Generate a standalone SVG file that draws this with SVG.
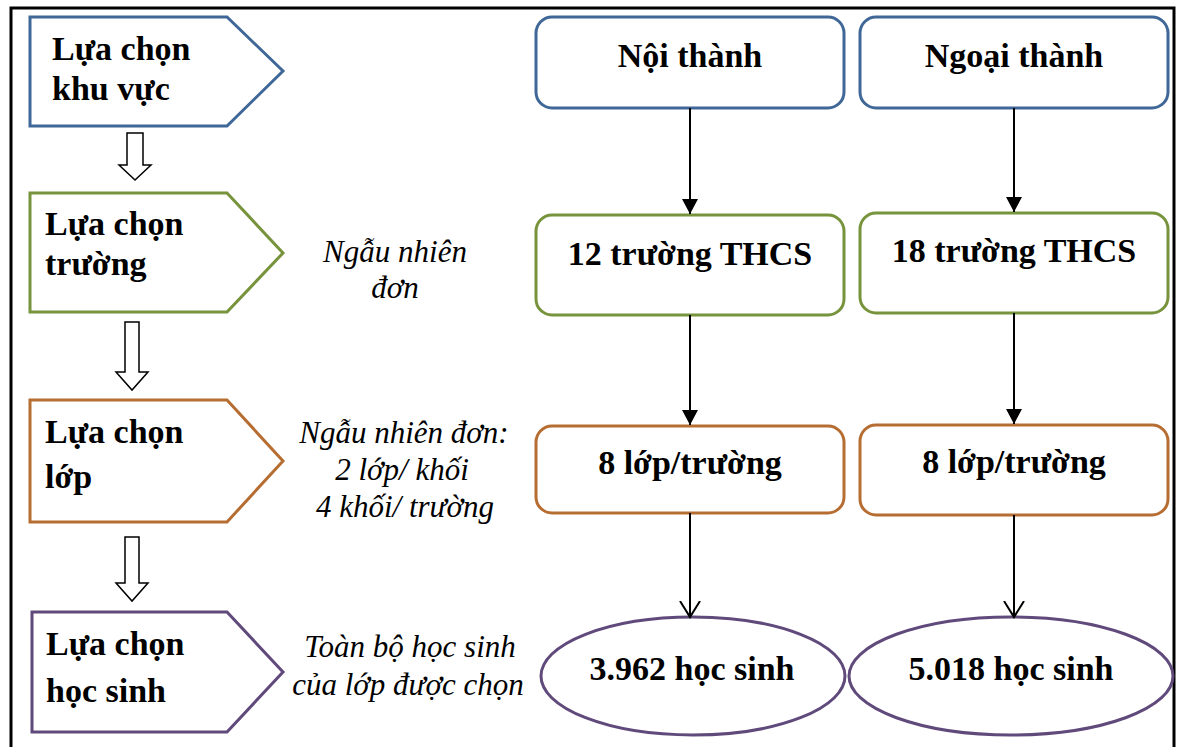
<svg xmlns="http://www.w3.org/2000/svg" width="1183" height="747" viewBox="0 0 1183 747">
<style>
.bold{font-weight:bold;font-size:34px;fill:#000}
.ital{font-style:italic;font-size:31px;fill:#000;text-anchor:middle}
.mid{text-anchor:middle}
.shape{fill:#fff;stroke-width:3}
.blue{stroke:#3F6797}
.green{stroke:#77933C}
.orange{stroke:#B66D31}
.purple{stroke:#604A7B}
.hollow{fill:#fff;stroke:#000;stroke-width:1.5}
.conn{stroke:#000;stroke-width:2;fill:none}
</style>
<defs>
<marker id="filled" markerUnits="userSpaceOnUse" markerWidth="16" markerHeight="18" refX="15" refY="8" orient="auto">
<path d="M0,0 L15,8 L0,16 Z" fill="#000"/>
</marker>
<marker id="open" markerUnits="userSpaceOnUse" markerWidth="18" markerHeight="24" refX="16" refY="11" orient="auto">
<path d="M0,1 L16,11 L0,21" fill="none" stroke="#000" stroke-width="2"/>
</marker>
</defs>
<rect width="1183" height="747" fill="#fff"/>
<rect x="11" y="8" width="1163" height="760" fill="none" stroke="#000" stroke-width="3"/>
<g font-family="'Times New Roman', 'Liberation Serif', 'Nimbus Roman', FreeSerif, 'Noto Serif', 'DejaVu Serif', serif">
<g id="step-khuvuc">
<path class="shape blue" d="M30,17 H227 L283,71 L227,126 H30 Z"/>
<text class="bold" x="52" y="60">Lựa chọn</text>
<text class="bold" x="52" y="100">khu vực</text>
</g>
<g id="step-truong">
<path class="shape green" d="M30,193 H227 L283,253 L227,312 H30 Z"/>
<text class="bold" x="45" y="235">Lựa chọn</text>
<text class="bold" x="45" y="275">trường</text>
</g>
<g id="step-lop">
<path class="shape orange" d="M30,400 H227 L283,461 L227,522 H30 Z"/>
<text class="bold" x="45" y="443">Lựa chọn</text>
<text class="bold" x="45" y="488">lớp</text>
</g>
<g id="step-hocsinh">
<path class="shape purple" d="M32,612 H227 L283,672 L227,732 H32 Z"/>
<text class="bold" x="46" y="655">Lựa chọn</text>
<text class="bold" x="46" y="702">học sinh</text>
</g>

<g id="hollow-arrows">
<polygon class="hollow" points="127,133 143,133 143,165 151,165 135,180 119,165 127,165"/>
<polygon class="hollow" points="125,322 139,322 139,372 148,372 132,390 116,372 125,372"/>
<polygon class="hollow" points="125,537 139,537 139,583 148,583 132,601 116,583 125,583"/>
</g>

<g id="label-truong">
<text class="ital" x="395" y="262">Ngẫu nhiên</text>
<text class="ital" x="395" y="298">đơn</text>
</g>
<g id="label-lop">
<text class="ital" x="404" y="443">Ngẫu nhiên đơn:</text>
<text class="ital" x="402" y="480">2 lớp/ khối</text>
<text class="ital" x="405" y="517">4 khối/ trường</text>
</g>
<g id="label-hocsinh">
<text class="ital" x="410" y="657">Toàn bộ học sinh</text>
<text class="ital" x="408" y="695">của lớp được chọn</text>
</g>

<g id="noi-thanh">
<rect class="shape blue" x="536" y="17" width="308" height="91" rx="16"/>
<text class="bold mid" x="690" y="67">Nội thành</text>
</g>
<g id="ngoai-thanh">
<rect class="shape blue" x="860" y="17" width="308" height="91" rx="16"/>
<text class="bold mid" x="1014" y="67">Ngoại thành</text>
</g>
<g id="truong-noi">
<rect class="shape green" x="536" y="215" width="308" height="100" rx="16"/>
<text class="bold mid" x="690" y="265">12 trường THCS</text>
</g>
<g id="truong-ngoai">
<rect class="shape green" x="860" y="213" width="308" height="100" rx="16"/>
<text class="bold mid" x="1014" y="262">18 trường THCS</text>
</g>
<g id="lop-noi">
<rect class="shape orange" x="536" y="426" width="308" height="87" rx="16"/>
<text class="bold mid" x="690" y="474">8 lớp/trường</text>
</g>
<g id="lop-ngoai">
<rect class="shape orange" x="860" y="425" width="308" height="90" rx="16"/>
<text class="bold mid" x="1014" y="473">8 lớp/trường</text>
</g>
<g id="hs-noi">
<ellipse class="shape purple" cx="693" cy="676" rx="152" ry="59"/>
<text class="bold mid" x="692" y="680">3.962 học sinh</text>
</g>
<g id="hs-ngoai">
<ellipse class="shape purple" cx="1011" cy="676" rx="162" ry="59"/>
<text class="bold mid" x="1011" y="680">5.018 học sinh</text>
</g>
</g>
<g id="connectors">
<line class="conn" x1="690" y1="108" x2="690" y2="214" marker-end="url(#filled)"/>
<line class="conn" x1="690" y1="315" x2="690" y2="425" marker-end="url(#filled)"/>
<line class="conn" x1="690" y1="513" x2="690" y2="617" marker-end="url(#open)"/>
<line class="conn" x1="1014" y1="108" x2="1014" y2="212" marker-end="url(#filled)"/>
<line class="conn" x1="1014" y1="313" x2="1014" y2="424" marker-end="url(#filled)"/>
<line class="conn" x1="1014" y1="515" x2="1014" y2="617" marker-end="url(#open)"/>
</g>
</svg>
